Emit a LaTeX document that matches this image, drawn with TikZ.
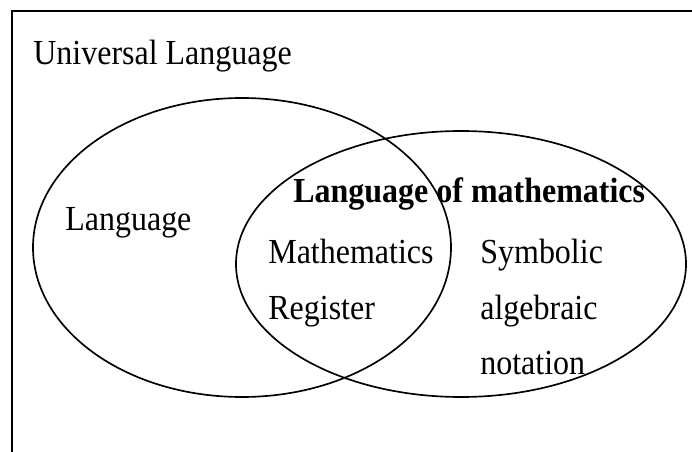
\documentclass[tikz,border=0pt]{standalone}
\usepackage{fontspec}
\setmainfont{Liberation Serif}
\usepackage{tikz}
\usetikzlibrary{positioning}

% the reference type is a little taller than it is wide
\newcommand{\talltxt}[1]{\scalebox{1}[1.1]{#1}}

\tikzset{
  venn/.style={line width=0.95pt},
  lbl/.style={anchor=base west, inner sep=0pt, font=\fontsize{18.2}{22}\selectfont},
}

\begin{document}
\begin{tikzpicture}[x=0.02cm,y=-0.02cm]
  \useasboundingbox (0,0) rectangle (692,452);
  \clip (0,0) rectangle (692,452);
  % outer frame, runs past the right and bottom edges
  \draw[line width=1.1pt] (12,11) rectangle (720,480);
  \node[lbl] (univ) at (33,64.5) {\talltxt{Universal Language}};
  % the two sets
  \draw[venn] (242,247.5) ellipse (209 and 149.5);
  \draw[venn] (461,264) ellipse (225 and 133);
  \node[lbl] (lang) at (65,231) {\talltxt{Language}};
  \node[lbl,font=\fontsize{18.2}{22}\selectfont\bfseries] (lom) at (293,203) {\talltxt{Language of mathematics}};
  % words inside the sets
  \foreach \name/\txt/\x/\y in {
    reg1/Mathematics/268/263,
    reg2/Register/268/319,
    sym1/Symbolic/480/263,
    sym2/algebraic/480/319,
    sym3/notation/480/374
  }{
    \node[lbl] (\name) at (\x,\y) {\talltxt{\txt}};
  }
\end{tikzpicture}
\end{document}
